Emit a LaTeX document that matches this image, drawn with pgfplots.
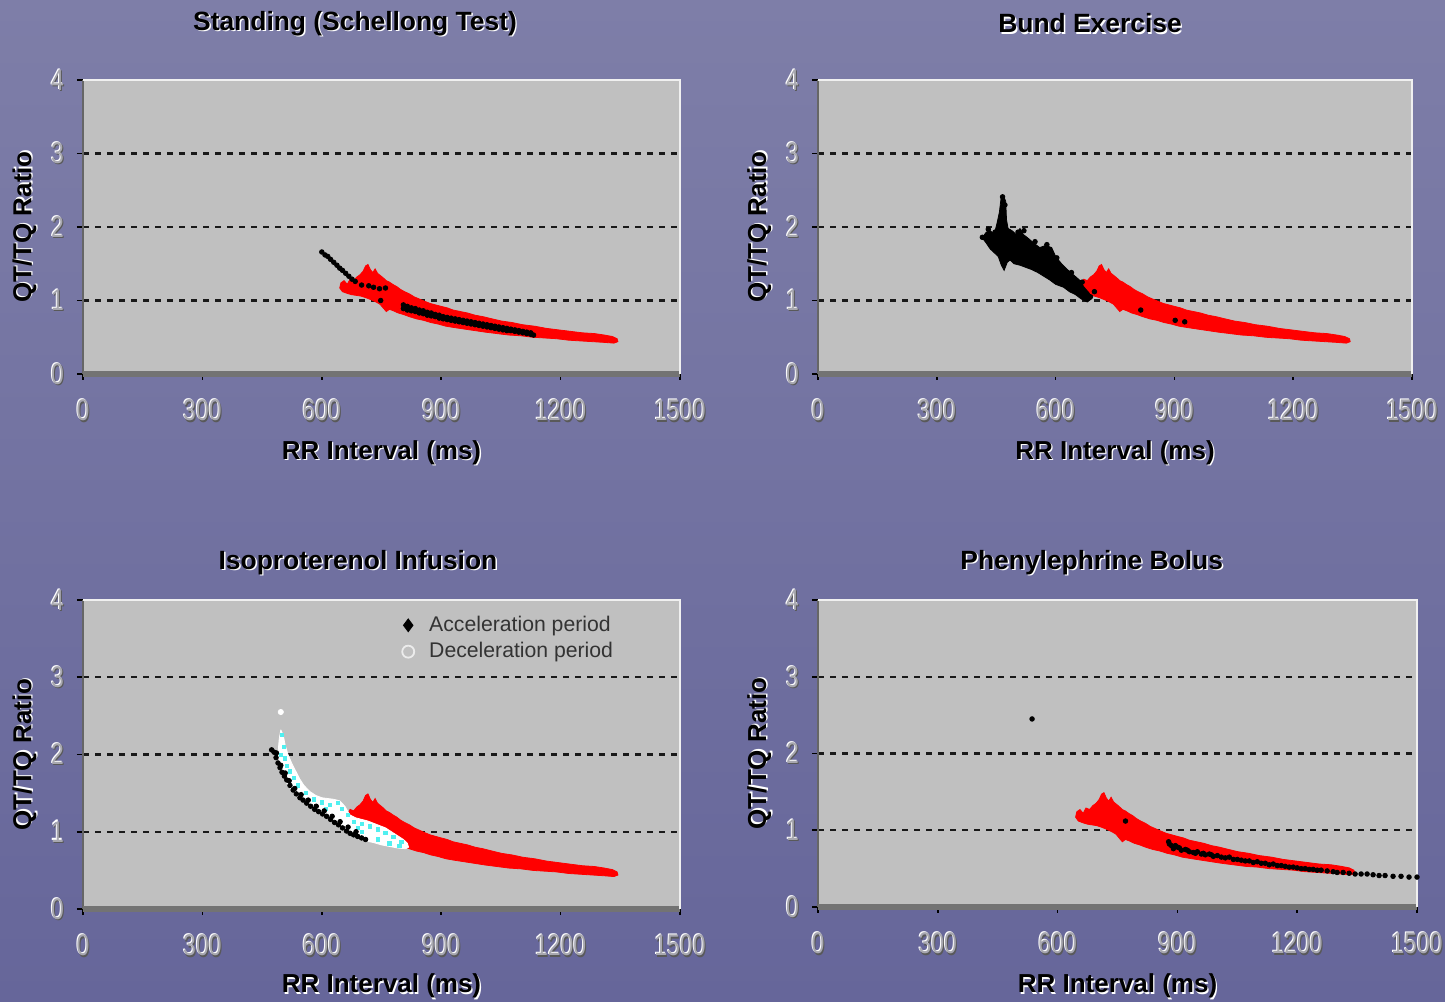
\documentclass[border=0pt]{standalone}
\usepackage{pgfplots}
\pgfplotsset{compat=1.18}
\usepackage{pgfplotstable}
\usepackage{graphicx}
\usepackage{fontspec}
\setmainfont{Liberation Sans}

\definecolor{bgtop}{RGB}{126,126,168}
\definecolor{bgmid}{RGB}{154,154,192}
\definecolor{bgbot}{RGB}{102,102,154}
\definecolor{plotgray}{RGB}{192,192,192}
\definecolor{ticktext}{RGB}{168,168,176}
\definecolor{decel}{RGB}{255,255,255}
\definecolor{cyanpt}{RGB}{80,240,240}

\newcommand\sh[1]{\leavevmode\rlap{\kern0.7pt\raisebox{-0.7pt}{\textcolor{white}{#1}}}#1}
\newcommand\tk[1]{\scalebox{1}[1.3]{\leavevmode\rlap{\kern0.5pt\raisebox{-0.4pt}{\textcolor{black!65}{#1}}}\rlap{\kern-0.5pt\raisebox{0.4pt}{\textcolor{white}{#1}}}\textcolor{ticktext}{#1}}}
\newcommand\panelframe{%
  \draw[line width=1.2pt, black!60] (rel axis cs:0,0) -- (rel axis cs:0,1);
  \draw[line width=2.6pt, black!55] (rel axis cs:0,0) -- (rel axis cs:1,0);
  \draw[line width=1.3pt, white!88!gray] (rel axis cs:0,1) -- (rel axis cs:1,1) -- (rel axis cs:1,0);
}

\pgfplotstableread{
x y
645 1.17
648 1.24
656 1.27
664 1.22
671 1.29
680 1.27
688 1.32
696 1.35
704 1.40
710 1.47
716 1.49
722 1.42
728 1.38
734 1.43
740 1.37
747 1.34
754 1.31
762 1.27
770 1.25
778 1.22
788 1.19
798 1.15
808 1.12
820 1.09
832 1.05
845 1.02
858 0.99
872 0.96
886 0.94
900 0.92
915 0.90
930 0.87
948 0.85
966 0.83
985 0.80
1005 0.78
1028 0.75
1052 0.72
1078 0.70
1105 0.67
1135 0.65
1165 0.62
1195 0.60
1225 0.58
1255 0.56
1285 0.55
1310 0.53
1330 0.51
1342 0.48
1344 0.44
1334 0.42
1310 0.43
1280 0.44
1250 0.45
1220 0.46
1190 0.48
1160 0.49
1130 0.50
1100 0.52
1070 0.53
1040 0.55
1010 0.57
985 0.59
960 0.61
935 0.63
912 0.65
892 0.68
874 0.70
856 0.73
838 0.75
820 0.78
805 0.81
792 0.83
780 0.86
770 0.88
762 0.85
754 0.90
746 0.95
736 0.98
724 1.01
710 1.04
698 1.06
686 1.07
674 1.08
662 1.10
652 1.12
645 1.17
}\redcloud

\pgfplotstableread{
x y
600 1.66
608 1.62
615 1.60
622 1.56
630 1.52
638 1.48
645 1.44
652 1.41
660 1.37
668 1.33
676 1.29
684 1.26
700 1.21
718 1.20
730 1.18
745 1.16
760 1.17
748 1.00
805 0.94
805 0.89
815 0.92
815 0.87
825 0.90
825 0.86
835 0.89
835 0.85
845 0.87
845 0.83
855 0.86
855 0.82
865 0.84
865 0.80
875 0.83
875 0.79
885 0.81
885 0.78
895 0.80
895 0.76
905 0.78
905 0.75
915 0.77
915 0.74
925 0.76
925 0.73
935 0.75
935 0.72
945 0.74
945 0.71
955 0.73
955 0.70
965 0.72
965 0.69
975 0.71
975 0.68
985 0.70
985 0.67
995 0.69
995 0.66
1005 0.68
1005 0.65
1015 0.67
1015 0.64
1025 0.66
1025 0.63
1035 0.65
1035 0.62
1045 0.64
1045 0.61
1055 0.63
1055 0.60
1065 0.62
1065 0.59
1075 0.61
1075 0.59
1085 0.60
1085 0.58
1095 0.59
1095 0.57
1105 0.58
1105 0.56
1115 0.57
1115 0.55
1125 0.56
1125 0.54
1132 0.53
}\blackA

\pgfplotstableread{
x y
418 1.88
425 1.93
435 1.95
445 1.90
452 2.05
458 2.20
462 2.38
468 2.43
474 2.35
476 2.10
480 1.98
490 1.95
500 1.90
510 1.98
518 1.90
530 1.85
545 1.78
560 1.72
575 1.75
590 1.72
600 1.60
615 1.50
630 1.42
645 1.35
660 1.28
672 1.18
685 1.10
690 1.02
680 0.98
665 1.02
650 1.08
635 1.12
620 1.18
600 1.22
585 1.28
570 1.33
555 1.38
540 1.42
525 1.45
510 1.48
495 1.50
485 1.55
478 1.52
470 1.41
463 1.48
455 1.60
445 1.65
435 1.70
425 1.78
418 1.83
418 1.88
}\blackBcloud

\pgfplotstableread{
x y
415 1.86
430 1.97
447 1.93
466 2.41
472 2.30
505 1.93
520 1.95
548 1.80
578 1.76
603 1.58
640 1.38
667 1.25
688 1.05
698 1.12
815 0.87
902 0.73
926 0.71
}\blackBpts

\pgfplotstableread{
x y
497 2.32
503 2.25
508 2.12
515 2.00
525 1.88
535 1.78
545 1.68
555 1.60
570 1.52
585 1.47
600 1.44
615 1.43
630 1.42
645 1.40
658 1.33
670 1.22
685 1.18
700 1.16
715 1.14
730 1.11
745 1.08
760 1.05
775 1.00
790 0.95
805 0.90
815 0.85
818 0.80
810 0.78
790 0.79
770 0.81
750 0.83
730 0.86
712 0.88
700 0.92
690 0.95
675 0.99
660 1.04
645 1.08
630 1.12
615 1.17
600 1.22
585 1.27
570 1.32
555 1.38
540 1.45
525 1.53
512 1.63
502 1.75
494 1.90
490 2.02
493 2.20
497 2.32
}\whitecloud

\pgfplotstableread{
x y
500 2.25
504 2.10
498 2.00
508 1.95
512 1.85
520 1.78
530 1.70
540 1.60
560 1.50
580 1.42
600 1.38
620 1.35
640 1.37
650 1.30
665 1.22
680 1.13
700 1.10
720 1.07
740 1.03
760 0.98
780 0.93
800 0.87
700 1.00
740 0.90
770 0.85
795 0.82
610 1.30
690 1.05
}\cyanpts

\pgfplotstableread{
x y
474 2.06
480 2.03
485 1.96
490 1.89
495 1.83
500 1.77
506 1.72
512 1.67
520 1.60
528 1.54
536 1.49
545 1.44
553 1.41
562 1.37
572 1.33
582 1.29
592 1.26
602 1.23
612 1.20
622 1.16
632 1.12
642 1.09
652 1.05
662 1.01
671 0.98
680 0.96
690 0.94
700 0.92
710 0.90
486 2.02
497 1.86
508 1.76
518 1.66
532 1.56
548 1.48
566 1.41
586 1.33
606 1.27
626 1.20
646 1.13
666 1.06
686 1.00
}\blackC

\pgfplotstableread{
x y
536 2.45
770 1.12
878 0.85
880 0.82
885 0.80
890 0.76
895 0.80
900 0.78
905 0.77
910 0.74
920 0.75
925 0.74
930 0.72
940 0.71
945 0.70
950 0.72
960 0.69
965 0.70
970 0.68
980 0.69
985 0.68
990 0.66
1000 0.67
1010 0.65
1020 0.64
1030 0.65
1040 0.62
1050 0.62
1060 0.61
1070 0.60
1080 0.60
1090 0.58
1100 0.59
1110 0.57
1120 0.57
1130 0.55
1140 0.56
1150 0.54
1160 0.54
1170 0.53
1180 0.52
1190 0.52
1200 0.51
1210 0.50
1220 0.50
1230 0.49
1240 0.49
1250 0.48
1260 0.48
1275 0.47
1290 0.46
1300 0.45
1315 0.45
1330 0.44
1345 0.43
1360 0.43
1375 0.43
1390 0.42
1405 0.41
1420 0.41
1440 0.40
1460 0.40
1480 0.39
1500 0.39
}\blackD

\pgfplotsset{
  panel/.style={
    scale only axis,
    anchor=south west,
    xmin=0, xmax=1500, ymin=0, ymax=4,
    xtick={0,300,600,900,1200,1500},
    ytick={0,1,2,3,4},
    xticklabels={\tk{0},\tk{300},\tk{600},\tk{900},\tk{1200},\tk{1500}},
    yticklabels={\tk{0},\tk{1},\tk{2},\tk{3},\tk{4}},
    xtick pos=left, ytick pos=left,
    tick align=outside,
    major tick length=3pt,
    tick style={black, line width=0.8pt},
    axis line style={draw=none},
    axis background/.style={fill=plotgray},
    ymajorgrids,
    grid style={black!90, line width=1.2pt, dash pattern=on 3.2pt off 2.8pt},
    clip=false,
    ticklabel style={font=\fontsize{11.5}{12}\selectfont},
    xticklabel style={anchor=north, yshift=-6pt},
    yticklabel style={anchor=east, xshift=-3pt},
    xlabel={\sh{RR Interval (ms)}},
    ylabel={\sh{QT/TQ Ratio}},
    label style={font=\fontsize{13}{15}\selectfont\bfseries},
    title style={font=\fontsize{13.2}{15}\selectfont\bfseries, anchor=center},
  },
  redc/.style={fill=red, draw=red, line width=0.4pt, forget plot},
  blk/.style={only marks, mark=*, mark size=1.15pt, black, forget plot},
}

\begin{document}
\begin{tikzpicture}
\useasboundingbox (0,0) rectangle (722.5pt,500.5pt);
\shade[top color=bgtop, middle color=bgmid, bottom color=bgbot] (0,0) rectangle (722.5pt,500.5pt);

% Panel 1
\begin{axis}[panel, at={(41.5pt,313.5pt)}, width=298.5pt, height=147pt,
  title={\sh{Standing (Schellong Test)}},
  title style={at={(axis description cs:0.4556,1.149)}},
  xlabel style={at={(axis description cs:0.5,-0.269)}, anchor=center},
  ylabel style={at={(axis description cs:-0.097,0.5)}, anchor=center}]
\addplot[redc] table {\redcloud};
\addplot[blk] table {\blackA};
\panelframe
\end{axis}

% Panel 2
\begin{axis}[panel, at={(409pt,313.5pt)}, width=297pt, height=147pt,
  title={\sh{Bund Exercise}},
  title style={at={(axis description cs:0.458,1.149)}},
  xlabel style={at={(axis description cs:0.5,-0.269)}, anchor=center},
  ylabel style={at={(axis description cs:-0.0976,0.5)}, anchor=center}]
\addplot[redc] table {\redcloud};
\addplot[fill=black, draw=black, line width=0.4pt, forget plot] table {\blackBcloud};
\addplot[blk] table {\blackBpts};
\panelframe
\end{axis}

% Panel 3
\begin{axis}[panel, at={(41.5pt,46pt)}, width=298.5pt, height=154.5pt,
  title={\sh{Isoproterenol Infusion}},
  title style={at={(axis description cs:0.4606,1.080)}},
  xlabel style={at={(axis description cs:0.5,-0.252)}, anchor=center},
  ylabel style={at={(axis description cs:-0.097,0.5)}, anchor=center},
  legend style={at={(axis description cs:0.524,0.975)}, anchor=north west,
    draw=none, fill=none, font=\fontsize{10.6}{12}\selectfont, text=black!80,
    column sep=5.5pt},
  legend cell align=left]
\addplot[redc] table {\redcloud};
\addplot[fill=decel, draw=decel, line width=0.4pt, forget plot] table {\whitecloud};
\addplot[only marks, mark=*, mark size=1.3pt, decel, forget plot] coordinates {(497,2.55)};
\addplot[only marks, mark=square*, mark size=0.8pt, cyanpt, forget plot] table {\cyanpts};
\addplot[blk] table {\blackC};
\addlegendimage{only marks, mark=diamond*, mark size=3.2pt, black}
\addlegendimage{only marks, mark=o, mark size=3pt, draw=white!85!gray, line width=0.9pt}
\legend{Acceleration period, Deceleration period}
\panelframe
\end{axis}

% Panel 4
\begin{axis}[panel, at={(409pt,47pt)}, width=299.5pt, height=153.5pt,
  title={\sh{Phenylephrine Bolus}},
  title style={at={(axis description cs:0.457,1.081)}},
  xlabel style={at={(axis description cs:0.5,-0.26)}, anchor=center},
  ylabel style={at={(axis description cs:-0.0968,0.5)}, anchor=center}]
\addplot[redc] table {\redcloud};
\addplot[blk] table {\blackD};
\panelframe
\end{axis}
\end{tikzpicture}
\end{document}
